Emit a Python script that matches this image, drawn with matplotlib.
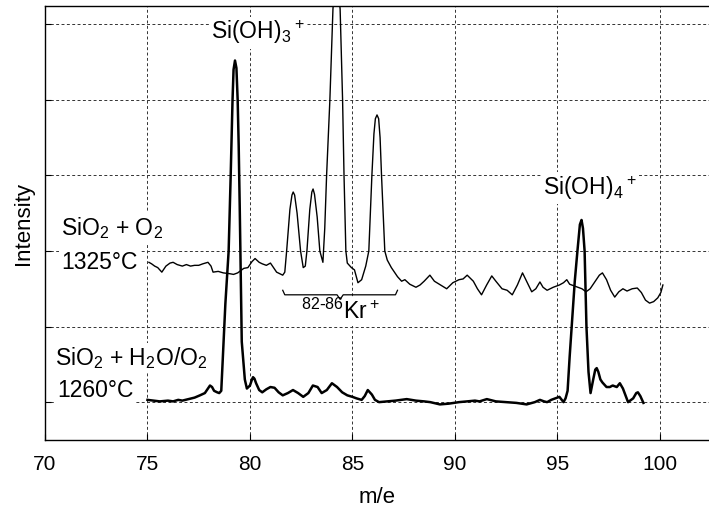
import numpy as np
import matplotlib
matplotlib.use("Agg")
import matplotlib.pyplot as plt

# Mass spectra of Si(OH)x species

# SiO2 + H2O/O2, 1260 C  (lower trace)
wet_mz = [75.0, 75.3, 75.6, 76.0, 76.25, 76.5, 76.7, 77.0, 77.3, 77.56, 77.8, 77.95,
          78.05, 78.15, 78.25, 78.4, 78.5, 78.6, 78.67, 78.8, 78.96, 79.06, 79.15,
          79.2, 79.27, 79.34, 79.4, 79.45, 79.5, 79.6, 79.75, 79.85, 80.0, 80.1, 80.15,
          80.22, 80.3, 80.45, 80.6, 80.8, 81.0, 81.2, 81.4, 81.6, 81.85, 82.1, 82.35, 82.6,
          82.85, 83.07, 83.3, 83.5, 83.75, 84.0, 84.25, 84.5, 84.75, 85.0, 85.2,
          85.45, 85.6, 85.75, 85.95, 86.1, 86.3, 86.7, 87.1, 87.65, 88.1, 88.5, 88.8,
          89.27, 89.7, 90.2, 90.6, 90.98, 91.2, 91.56, 92.0, 92.5, 93.0, 93.5, 93.9,
          94.15, 94.35, 94.5, 94.7, 94.9, 95.1, 95.3, 95.4, 95.5, 95.6, 95.7, 95.85,
          95.98, 96.1, 96.18, 96.25, 96.33, 96.42, 96.52, 96.62, 96.75, 96.85, 96.92,
          97.0, 97.1, 97.2, 97.4, 97.56, 97.7, 97.9, 98.05, 98.2, 98.45, 98.7, 98.85,
          98.93, 99.05, 99.2]
wet_int = [0.03, 0.02, 0.01, 0.02, 0.01, 0.03, 0.02, 0.04, 0.06, 0.09, 0.12, 0.18,
           0.22, 0.2, 0.15, 0.13, 0.12, 0.15, 0.55, 1.3, 2.0, 3.0, 4.0,
           4.4, 4.52, 4.42, 4.0, 3.4, 2.6, 0.8, 0.3, 0.18, 0.22, 0.3, 0.33,
           0.31, 0.25, 0.16, 0.13, 0.17, 0.2, 0.19, 0.13, 0.09, 0.12, 0.16, 0.12, 0.07,
           0.12, 0.22, 0.2, 0.12, 0.16, 0.25, 0.2, 0.13, 0.09, 0.07, 0.05,
           0.03, 0.08, 0.16, 0.1, 0.03, 0.0, 0.01, 0.02, 0.04, 0.02, 0.01, 0.0,
           -0.03, -0.02, 0.0, 0.01, 0.02, 0.01, 0.04, 0.01, 0.0, -0.01, -0.03, 0.0,
           0.03, 0.01, 0.0, 0.03, 0.05, 0.07, 0.0, 0.05, 0.15, 0.6, 1.0, 1.6,
           2.0, 2.35, 2.41, 2.3, 2.0, 1.0, 0.4, 0.12, 0.3, 0.43, 0.45,
           0.4, 0.3, 0.26, 0.2, 0.2, 0.22, 0.2, 0.25, 0.18, 0.0, 0.05, 0.12,
           0.13, 0.08, -0.01]

# SiO2 + O2, 1325 C  (upper trace)
dry_mz = [75.07, 75.2, 75.35, 75.5, 75.7, 75.9, 76.1, 76.25, 76.45, 76.7, 76.9, 77.1,
          77.3, 77.5, 77.7, 77.95, 78.1, 78.2, 78.45, 78.7, 79.0, 79.2, 79.4, 79.55,
          79.7, 79.9, 80.1, 80.25, 80.45, 80.6, 80.8, 81.0, 81.15, 81.3, 81.45, 81.6,
          81.7, 81.79, 81.95, 82.05, 82.11, 82.18, 82.3, 82.47, 82.6, 82.7, 82.78,
          82.92, 83.02, 83.08, 83.15, 83.28, 83.41, 83.56, 83.65, 83.74, 83.9, 84.05,
          84.2, 84.4, 84.52, 84.59, 84.68, 84.75, 84.95, 85.1, 85.27, 85.45, 85.65,
          85.8, 85.95, 86.05, 86.12, 86.2, 86.28, 86.35, 86.42, 86.58, 86.7, 86.9,
          87.2, 87.4, 87.56, 87.8, 88.1, 88.3, 88.5, 88.78, 89.0, 89.3, 89.6, 89.9,
          90.2, 90.4, 90.6, 90.9, 91.1, 91.3, 91.55, 91.8, 92.0, 92.3, 92.55, 92.8,
          93.05, 93.3, 93.5, 93.75, 93.95, 94.15, 94.3, 94.5, 94.8, 95.1, 95.3, 95.46,
          95.6, 95.8, 96.0, 96.2, 96.4, 96.6, 96.85, 97.05, 97.2, 97.4, 97.6, 97.8,
          98.0, 98.2, 98.4, 98.65, 98.9, 99.1, 99.3, 99.5, 99.7, 99.9, 100.05, 100.15]
dry_int = [1.85, 1.83, 1.8, 1.78, 1.72, 1.8, 1.84, 1.85, 1.82, 1.8, 1.82, 1.8,
           1.81, 1.81, 1.83, 1.85, 1.8, 1.72, 1.73, 1.71, 1.7, 1.69, 1.71, 1.74,
           1.77, 1.78, 1.86, 1.9, 1.85, 1.83, 1.81, 1.84, 1.78, 1.72, 1.7, 1.68,
           1.72, 2.0, 2.55, 2.74, 2.78, 2.74, 2.5, 2.0, 1.78, 1.8, 2.0,
           2.55, 2.78, 2.82, 2.75, 2.45, 2.0, 1.85, 2.3, 3.0, 4.0, 5.2,
           5.8, 5.2, 4.0, 3.0, 2.0, 1.84, 1.78, 1.75, 1.58, 1.62, 1.8,
           2.0, 3.0, 3.55, 3.75, 3.8, 3.75, 3.5, 3.0, 2.0, 1.88, 1.78,
           1.66, 1.6, 1.62, 1.56, 1.52, 1.55, 1.6, 1.68, 1.6, 1.55, 1.5, 1.58,
           1.62, 1.63, 1.68, 1.6, 1.5, 1.42, 1.55, 1.67, 1.6, 1.5, 1.48, 1.42,
           1.55, 1.71, 1.6, 1.46, 1.5, 1.59, 1.52, 1.48, 1.52, 1.55, 1.58, 1.62,
           1.56, 1.54, 1.52, 1.5, 1.46, 1.5, 1.6, 1.68, 1.71, 1.62, 1.48, 1.39,
           1.46, 1.5, 1.47, 1.5, 1.51, 1.45, 1.35, 1.31, 1.33, 1.38, 1.45, 1.55]

kr_span = (81.6, 87.2)
x_ticks = [70, 75, 80, 85, 90, 95, 100]

plt.rcParams['font.family'] = ['Liberation Sans', 'DejaVu Sans']
plt.rcParams['mathtext.default'] = 'regular'

fig = plt.figure(figsize=(7.09, 5.08), dpi=100)
ax = fig.add_axes([0.0635, 0.134, 0.9365, 0.854])

ax.plot(wet_mz, wet_int, color='black', lw=1.8, zorder=4)
ax.plot(dry_mz, dry_int, color='black', lw=1.0, zorder=4)

# brace under the Kr isotopes
lo, hi = kr_span
mid = (lo + hi) / 2
ax.plot([lo, lo + 0.1, mid - 0.15, mid, mid + 0.15, hi - 0.1, hi],
        [1.48, 1.42, 1.42, 1.36, 1.42, 1.42, 1.48], color='black', lw=0.9, zorder=4)

box = dict(facecolor='white', edgecolor='none', pad=1.5)
fs = 16.5
ax.text(80.4, 4.89, r'Si(OH)$_3$$^+$', fontsize=fs, ha='center', va='center', bbox=box)
ax.text(96.6, 2.83, r'Si(OH)$_4$$^+$', fontsize=fs, ha='center', va='center', bbox=box)
ax.text(mid, 1.2, r'$^{82\text{-}86}$Kr$^+$', fontsize=fs, ha='center', va='center', bbox=box)
ax.text(70.8, 2.3, r'SiO$_2$ + O$_2$', fontsize=fs, ha='left', va='center', bbox=box)
ax.text(70.8, 1.85, '1325°C', fontsize=fs, ha='left', va='center', bbox=box)
ax.text(70.5, 0.58, r'SiO$_2$ + H$_2$O/O$_2$', fontsize=fs, ha='left', va='center', bbox=box)
ax.text(70.6, 0.16, '1260°C', fontsize=fs, ha='left', va='center', bbox=box)

ax.set_xlim(70, 102.4)
ax.set_ylim(-0.5, 5.24)
ax.set_xticks(x_ticks)
ax.set_yticks(range(6))
ax.set_yticklabels([])
ax.tick_params(direction='in', length=4, labelsize=15, pad=11)
ax.tick_params(axis='y', pad=3)
ax.grid(True, color='0.2', lw=0.7, linestyle=(0, (3, 2.5)))
ax.set_axisbelow(True)
ax.spines['right'].set_visible(False)
for s in ['left', 'bottom', 'top']:
    ax.spines[s].set_linewidth(1.0)

ax.set_xlabel('m/e', fontsize=16, labelpad=9)
ax.set_ylabel('Intensity', fontsize=16, labelpad=5)

fig.savefig('out.png', dpi=100)
